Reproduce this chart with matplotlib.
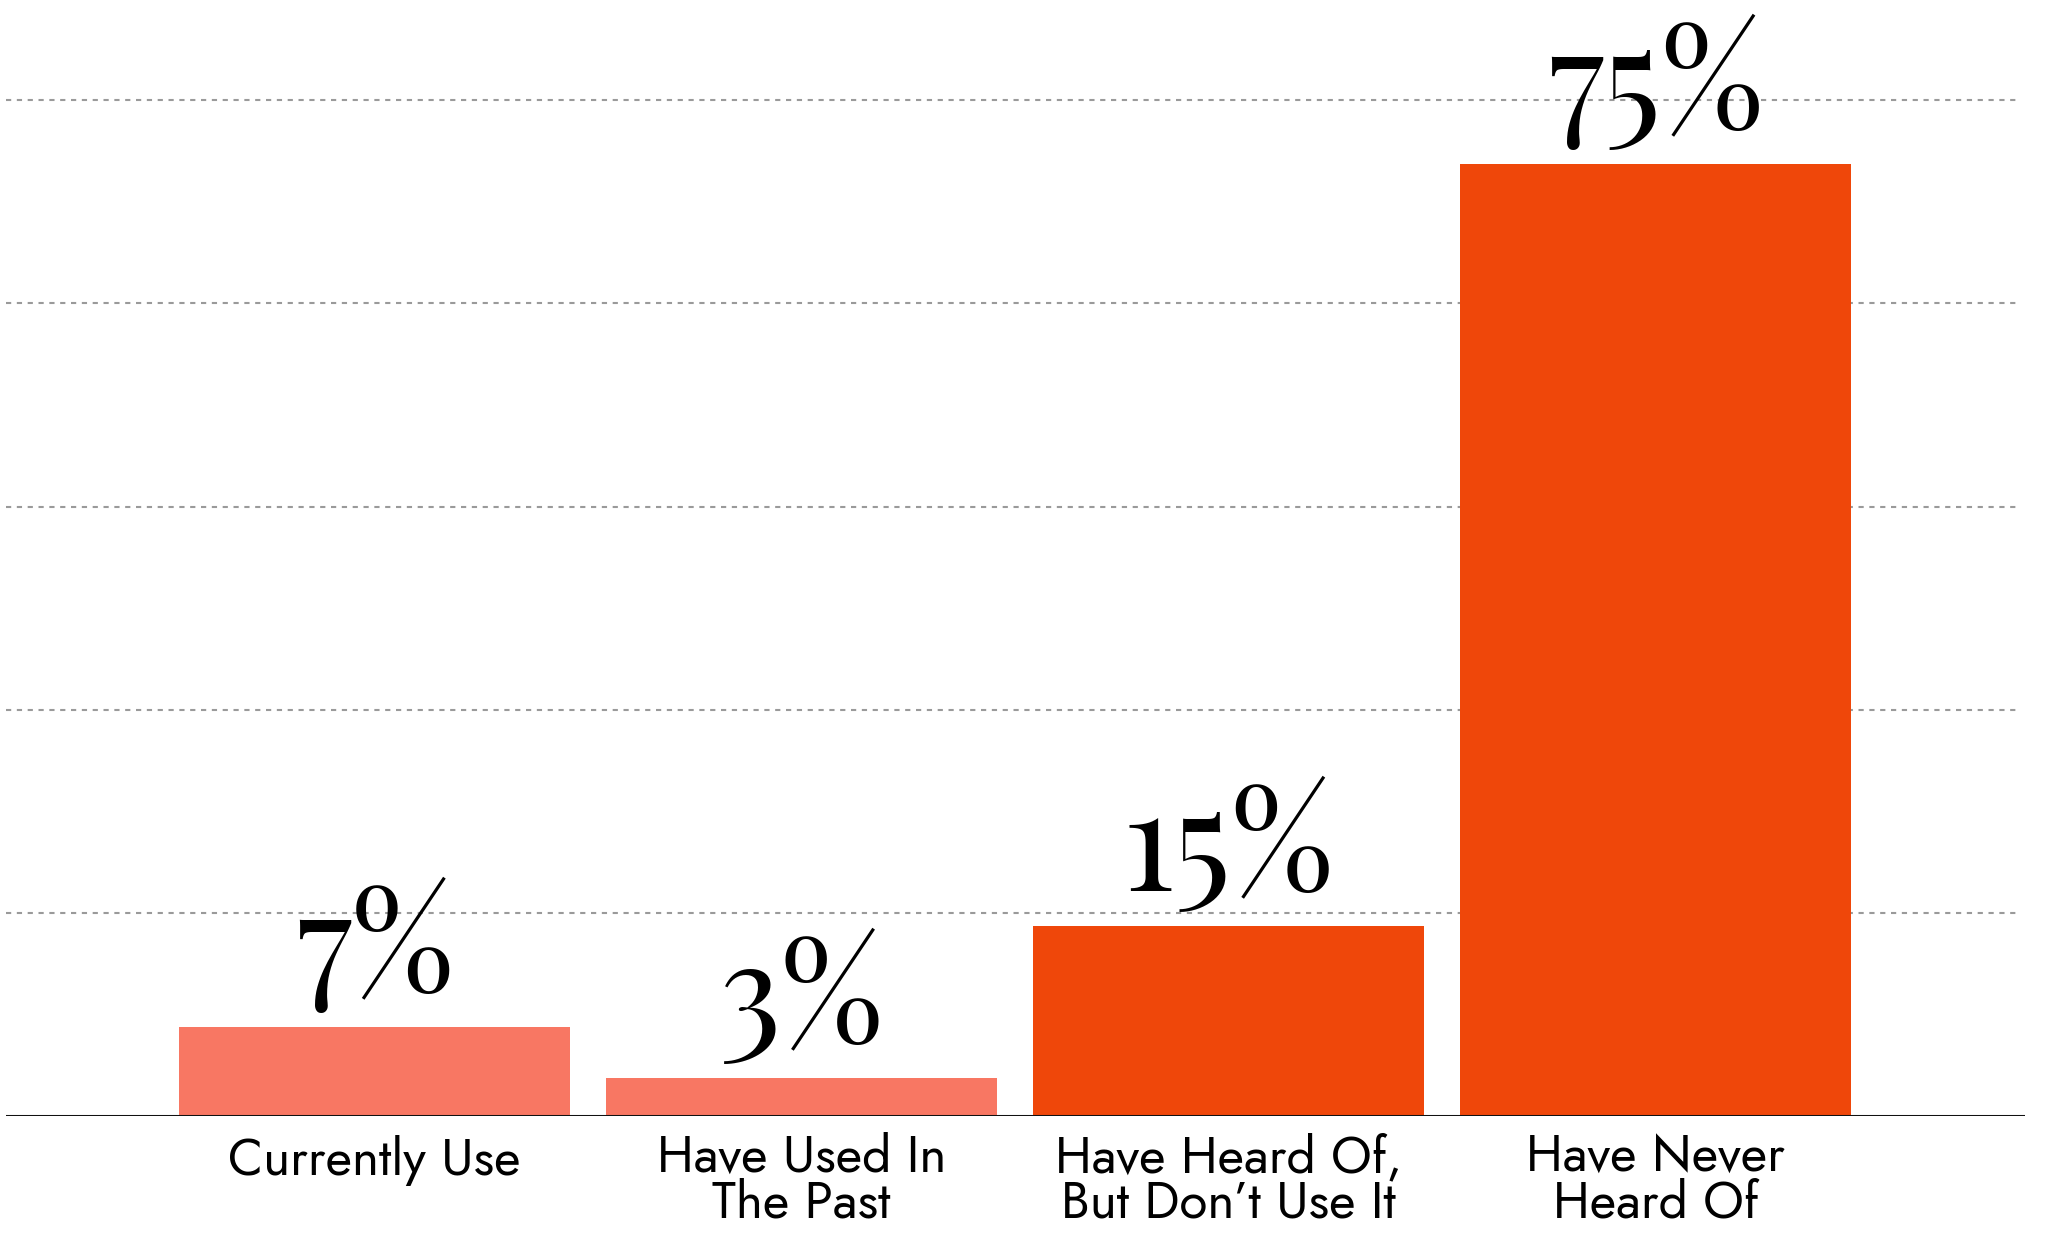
import matplotlib
matplotlib.use('Agg')
import matplotlib.pyplot as plt
from matplotlib.transforms import offset_copy

# 数据
categories = ['Currently Use', 'Have Used In\nThe Past',
              'Have Heard Of,\nBut Don\u2019t Use It', 'Have Never\nHeard Of']
values = [7, 3, 15, 75]
bar_colors = ['#F87763', '#F87763', '#EF470A', '#EF470A']
grid_ticks = [16, 32, 48, 64, 80]

# 字体 找不到就用后面的
label_font = ['Jost', 'Futura', 'Roboto Condensed', 'DejaVu Sans']
value_font = ['Playfair Display', 'DejaVu Serif']

fig = plt.figure(figsize=(20.5, 12.4), dpi=100)
ax = fig.add_axes([0.003, 0.1, 0.985, 0.9])
x = list(range(len(values)))
ax.bar(x, values, width=0.916, color=bar_colors, zorder=2)
ax.set_xlim(-0.863, 3.867)
ax.set_ylim(0, 87.9)
ax.axis('off')

# 虚线网格
for t in grid_ticks:
    ax.axhline(t, xmin=0, xmax=0.9975, color='#9a9a9a', lw=1.5,
               ls=(0, (2.5, 2.7)), zorder=1)
# 底线
ax.axhline(0, color='#111111', lw=2.2, zorder=3)

# 分类标签 baseline对齐的是最后一行 所以按行数往下挪
line_pitch = 42
for i, lab in enumerate(categories):
    n = lab.count('\n')
    tr = offset_copy(ax.transData, fig=fig, x=0, y=-59 - n * line_pitch, units='dots')
    ax.text(i, 0, lab, transform=tr, ha='center', va='baseline',
            multialignment='center', linespacing=0.85,
            fontsize=37, family=label_font, color='black')

# 数值标签
tr_val = offset_copy(ax.transData, fig=fig, x=0, y=35, units='dots')
for i, v in enumerate(values):
    ax.text(i, v, '%d%%' % v, transform=tr_val, ha='center', va='baseline',
            fontsize=100, family=value_font, color='black')

fig.savefig('out.png', dpi=100)
